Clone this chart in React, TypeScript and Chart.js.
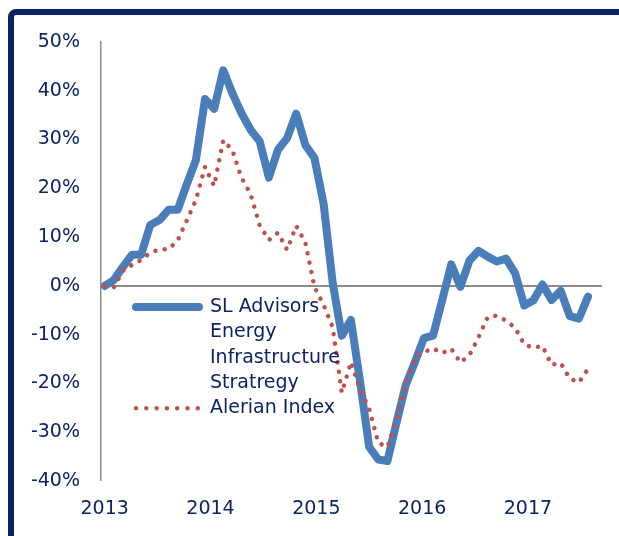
import { useEffect, useRef } from 'react';
import { Chart, registerables } from 'chart.js';

Chart.register(...registerables);

// Monthly-ish observations, cumulative return (%)
const slAdvisors = [
  0, 1.2, 3.9, 6.4, 6.4, 12.5, 13.5, 15.6, 15.6, 20.8,
  25.8, 38.3, 36.3, 44.2, 39.5, 35.4, 32, 29.6, 22.2, 27.9,
  30.3, 35.3, 28.9, 26.2, 16.9, 0.6, -10.2, -7.0, -19.6, -33,
  -35.6, -35.9, -28, -20.4, -15.7, -10.7, -10.2, -3, 4.4, -0.2,
  5.2, 7.2, 6.0, 5.0, 5.6, 2.6, -4.0, -3.0, 0.3, -2.9,
  -1.0, -6.2, -6.7, -2.2,
];

const alerian = [
  0, -0.3, 3.1, 4.3, 5.3, 6.8, 7.5, 7.5, 9.3, 13.4,
  17.6, 24.4, 20.5, 29.9, 27.8, 22.2, 18.8, 12.4, 9.4, 10.9,
  7.4, 12.3, 8.9, -0.2, -3.9, -8.5, -21.9, -15.6, -21.2, -25.2,
  -32.2, -33.0, -27.6, -20.0, -14.8, -13.6, -12.8, -13.8, -12.9, -15.7,
  -14.2, -10.5, -6.4, -6.1, -7.1, -8.6, -12.0, -12.7, -12.3, -16.2,
  -15.8, -19.0, -19.8, -17.0,
];

const yearLabels = ['2013', '2014', '2015', '2016', '2017'];
const legendBlue = ['SL Advisors', 'Energy', 'Infrastructure', 'Stratregy'];
const legendRed = ['Alerian Index'];

const NAVY = '#0c2466';
const BLUE = '#4a7ebb';
const RED = '#c0504d';
const GRAY = '#8c8c8c';
const FONT = { family: '"DejaVu Sans", sans-serif', size: 19 };

const legendPlugin = {
  id: 'customLegend',
  afterDraw(chart: any) {
    const ctx = chart.ctx;
    const a = chart.chartArea;
    const lineH = 25.3;
    const y0 = a.top + 265;
    const sx0 = a.left + 35;
    const sx1 = a.left + 98;
    const tx = a.left + 109;
    ctx.save();
    ctx.strokeStyle = BLUE;
    ctx.lineWidth = 8;
    ctx.lineCap = 'round';
    ctx.setLineDash([]);
    ctx.beginPath();
    ctx.moveTo(sx0, y0);
    ctx.lineTo(sx1, y0);
    ctx.stroke();
    const yr = y0 + legendBlue.length * lineH;
    ctx.strokeStyle = RED;
    ctx.lineWidth = 4.5;
    ctx.setLineDash([0.001, 10.3]);
    ctx.beginPath();
    ctx.moveTo(sx0, yr);
    ctx.lineTo(sx1, yr);
    ctx.stroke();
    ctx.setLineDash([]);
    ctx.fillStyle = NAVY;
    ctx.font = `${FONT.size}px ${FONT.family}`;
    ctx.textBaseline = 'middle';
    ctx.textAlign = 'left';
    [...legendBlue, ...legendRed].forEach((t, i) => {
      ctx.fillText(t, tx, y0 + i * lineH);
    });
    ctx.restore();
  },
};

export default function App() {
  const ref = useRef<HTMLCanvasElement>(null);

  useEffect(() => {
    if (!ref.current) return;
    const chart = new Chart(ref.current, {
      type: 'line',
      data: {
        datasets: [
          {
            label: legendBlue.join(' '),
            data: slAdvisors.map((y, i) => ({ x: i, y })),
            borderColor: BLUE,
            backgroundColor: BLUE,
            borderWidth: 8,
            pointRadius: 0,
            tension: 0,
            borderCapStyle: 'round',
            borderJoinStyle: 'round',
            xAxisID: 'x',
            yAxisID: 'y',
            order: 2,
          },
          {
            label: legendRed[0],
            data: alerian.map((y, i) => ({ x: i, y })),
            borderColor: RED,
            backgroundColor: RED,
            borderWidth: 4.5,
            borderDash: [0.001, 9.5],
            borderCapStyle: 'round',
            pointRadius: 0,
            tension: 0,
            xAxisID: 'x',
            yAxisID: 'y',
            order: 1,
          },
        ],
      },
      options: {
        responsive: false,
        animation: false,
        devicePixelRatio: 1,
        layout: { padding: { top: 42, right: 17, left: 0, bottom: 0 } },
        plugins: {
          legend: { display: false },
          tooltip: { enabled: false },
        },
        scales: {
          x: {
            type: 'linear',
            display: false,
            min: -0.406,
            max: 54.53,
          },
          x2: {
            type: 'linear',
            position: 'bottom',
            min: 2012.965,
            max: 2017.7,
            grid: { display: false },
            border: { display: false },
            ticks: {
              color: NAVY,
              font: FONT,
              padding: 9,
              autoSkip: false,
              maxRotation: 0,
              callback: (v: any) => String(v),
            },
            afterBuildTicks: (s: any) => {
              s.ticks = yearLabels.map((l) => ({ value: Number(l) }));
            },
            afterFit: (s: any) => {
              s.height = 55;
            },
          },
          y: {
            type: 'linear',
            min: -40,
            max: 50,
            ticks: {
              stepSize: 10,
              color: NAVY,
              font: FONT,
              padding: 21,
              callback: (v: any) => `${v}%`,
            },
            grid: {
              drawTicks: false,
              color: (c: any) => (c.tick && c.tick.value === 0 ? GRAY : 'rgba(0,0,0,0)'),
              lineWidth: (c: any) => (c.tick && c.tick.value === 0 ? 2 : 0),
            },
            border: { display: true, color: GRAY, width: 1.5 },
            afterFit: (s: any) => {
              s.width = 101;
            },
          },
        },
      },
      plugins: [legendPlugin],
    } as any);
    return () => chart.destroy();
  }, []);

  return (
    <div
      style={{
        position: 'absolute',
        left: 0,
        top: 0,
        width: 619,
        height: 536,
        overflow: 'hidden',
        background: '#ffffff',
      }}
    >
      <div
        style={{
          position: 'absolute',
          left: 8,
          top: 9,
          width: 720,
          height: 720,
          border: '6px solid #0b2463',
          borderRadius: 8,
          boxSizing: 'border-box',
        }}
      />
      <canvas
        ref={ref}
        width={619}
        height={536}
        style={{ position: 'absolute', left: 0, top: 0, width: 619, height: 536 }}
      />
    </div>
  );
}
